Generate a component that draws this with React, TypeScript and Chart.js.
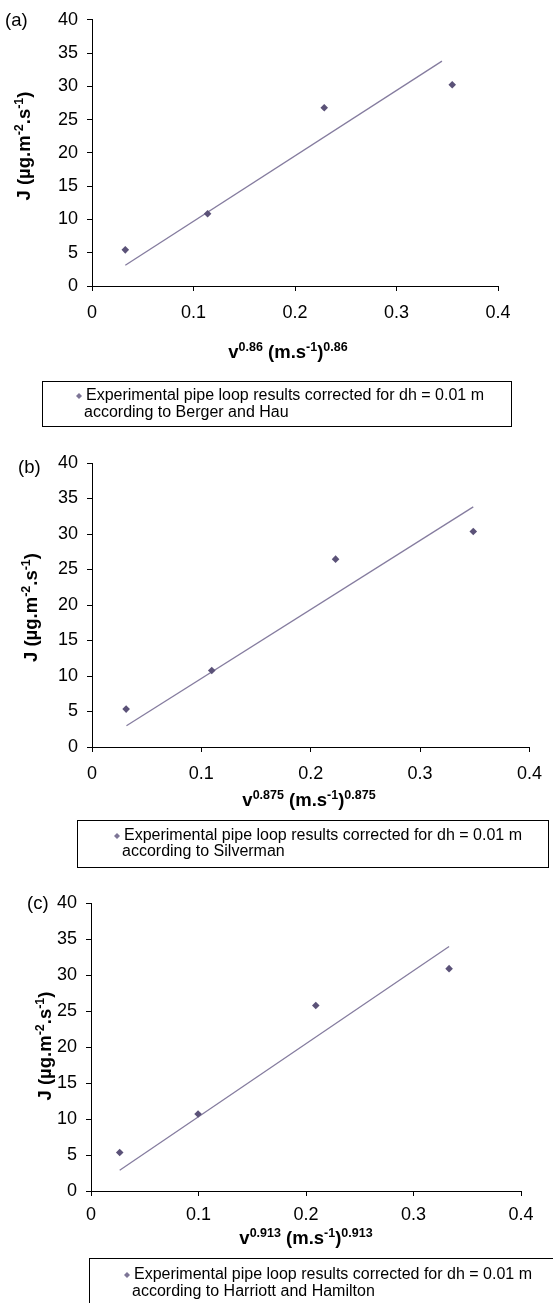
import React, { useEffect, useRef } from 'react';
import { Chart, registerables } from 'chart.js';

Chart.register(...registerables);

// ---------- data ----------
const xTickValues = [0, 0.1, 0.2, 0.3, 0.4];
const xTickLabels = ['0', '0.1', '0.2', '0.3', '0.4'];
const yTickValues = [0, 5, 10, 15, 20, 25, 30, 35, 40];
const yTickLabels = ['0', '5', '10', '15', '20', '25', '30', '35', '40'];

const panelLabels = ['(a)', '(b)', '(c)'];
const velocityExponents = ['0.86', '0.875', '0.913'];
const legendLine1 = 'Experimental pipe loop results corrected for dh = 0.01 m';
const legendLine2 = [
  'according to Berger and Hau',
  'according to Silverman',
  'according to Harriott and Hamilton',
];

// panel (a) – Berger and Hau
const bergerX = [0.0328, 0.1139, 0.2288, 0.3549];
const bergerY = [5.43, 10.85, 26.78, 30.23];
const bergerTrendX = [0.0328, 0.3448];
const bergerTrendY = [3.11, 33.79];

// panel (b) – Silverman
const silvermanX = [0.0312, 0.1095, 0.2227, 0.3486];
const silvermanY = [5.34, 10.77, 26.46, 30.35];
const silvermanTrendX = [0.0315, 0.3486];
const silvermanTrendY = [3.0, 33.82];

// panel (c) – Harriott and Hamilton
const harriottX = [0.0267, 0.0996, 0.2091, 0.3331];
const harriottY = [5.35, 10.7, 25.77, 30.88];
const harriottTrendX = [0.0267, 0.3331];
const harriottTrendY = [2.88, 33.95];

// ---------- style / layout ----------
const FONT = '"Liberation Sans", Arial, Helvetica, sans-serif';
const MARK = '#5b5278';
const LINE = '#857c9f';
const LEGEND_MARK = '#7d7596';
const W = 553;

type Layout = {
  top: number;
  height: number;
  left: number;
  right: number;
  plotTop: number;
  plotBottom: number;
  xPad: number;
  label: { x: number; y: number };
  yTitle: { x: number; cy: number };
  xTitle: { cx: number; y: number };
  legend: { x0: number; y0: number; x1: number; y1: number; textX: number; line1: number; line2: number };
};

const layouts: Layout[] = [
  {
    top: 0, height: 435, left: 92, right: 498, plotTop: 16, plotBottom: 286, xPad: 11,
    label: { x: 5, y: 26 },
    yTitle: { x: 30, cy: 146 },
    xTitle: { cx: 288, y: 358 },
    legend: { x0: 42.5, y0: 381.5, x1: 511.5, y1: 426.5, textX: 84, line1: 396, line2: 412.5 },
  },
  {
    top: 435, height: 435, left: 92, right: 540, plotTop: 28, plotBottom: 312, xPad: 11,
    label: { x: 18, y: 38 },
    yTitle: { x: 37, cy: 172.5 },
    xTitle: { cx: 309, y: 371 },
    legend: { x0: 77.5, y0: 385.5, x1: 548.5, y1: 432.5, textX: 122, line1: 401, line2: 417 },
  },
  {
    top: 870, height: 433, left: 91, right: 521, plotTop: 33, plotBottom: 321, xPad: 8,
    label: { x: 27, y: 39 },
    yTitle: { x: 51, cy: 176 },
    xTitle: { cx: 306, y: 373.5 },
    legend: { x0: 89.5, y0: 388.5, x1: 560, y1: 470, textX: 132, line1: 405, line2: 421.5 },
  },
];

type Seg = { t: string; sup?: boolean };

function drawRich(ctx: CanvasRenderingContext2D, segs: Seg[], cx: number, baseY: number) {
  const size = 18.5;
  const supSize = 12.5;
  const rise = 7;
  const widths = segs.map((s) => {
    ctx.font = `bold ${s.sup ? supSize : size}px ${FONT}`;
    return ctx.measureText(s.t).width;
  });
  const total = widths.reduce((a, b) => a + b, 0);
  let x = cx - total / 2;
  ctx.textAlign = 'left';
  ctx.textBaseline = 'alphabetic';
  ctx.fillStyle = '#000';
  segs.forEach((s, i) => {
    ctx.font = `bold ${s.sup ? supSize : size}px ${FONT}`;
    ctx.fillText(s.t, x, s.sup ? baseY - rise : baseY);
    x += widths[i];
  });
}

function makeDecor(idx: number) {
  const L = layouts[idx];
  return {
    id: 'decor' + idx,
    afterDraw(chart: any) {
      const ctx: CanvasRenderingContext2D = chart.ctx;
      ctx.save();
      // panel label
      ctx.font = `18.5px ${FONT}`;
      ctx.fillStyle = '#000';
      ctx.textAlign = 'left';
      ctx.textBaseline = 'alphabetic';
      ctx.fillText(panelLabels[idx], L.label.x, L.label.y);

      // y-axis title
      const ySegs: Seg[] = [
        { t: 'J (µg.m' },
        { t: '-2', sup: true },
        { t: '.s' },
        { t: '-1', sup: true },
        { t: ')' },
      ];
      ctx.save();
      ctx.translate(L.yTitle.x, L.yTitle.cy);
      ctx.rotate(-Math.PI / 2);
      drawRich(ctx, ySegs, 0, 0);
      ctx.restore();

      // x-axis title
      const e = velocityExponents[idx];
      const xSegs: Seg[] = [
        { t: 'v' },
        { t: e, sup: true },
        { t: ' (m.s' },
        { t: '-1', sup: true },
        { t: ')' },
        { t: e, sup: true },
      ];
      drawRich(ctx, xSegs, L.xTitle.cx, L.xTitle.y);

      // legend box
      const g = L.legend;
      ctx.strokeStyle = '#000';
      ctx.lineWidth = 1;
      ctx.strokeRect(g.x0, g.y0, g.x1 - g.x0, g.y1 - g.y0);
      // legend marker
      const mx = g.textX - 5;
      const my = g.line1;
      const r = 3;
      ctx.fillStyle = LEGEND_MARK;
      ctx.beginPath();
      ctx.moveTo(mx - r, my);
      ctx.lineTo(mx, my - r);
      ctx.lineTo(mx + r, my);
      ctx.lineTo(mx, my + r);
      ctx.closePath();
      ctx.fill();
      // legend text
      ctx.fillStyle = '#000';
      ctx.font = `16px ${FONT}`;
      ctx.textBaseline = 'middle';
      ctx.textAlign = 'left';
      ctx.fillText(legendLine1, g.textX + 2, g.line1);
      ctx.fillText(legendLine2[idx], g.textX, g.line2);
      ctx.restore();
    },
  };
}

const panelData = [
  { px: bergerX, py: bergerY, tx: bergerTrendX, ty: bergerTrendY },
  { px: silvermanX, py: silvermanY, tx: silvermanTrendX, ty: silvermanTrendY },
  { px: harriottX, py: harriottY, tx: harriottTrendX, ty: harriottTrendY },
];

function Panel({ idx }: { idx: number }) {
  const ref = useRef<HTMLCanvasElement | null>(null);
  useEffect(() => {
    const canvas = ref.current;
    if (!canvas) return;
    const L = layouts[idx];
    const d = panelData[idx];
    const axisCommon = {
      grid: { drawOnChartArea: false, drawTicks: true, tickLength: 5, color: '#000', lineWidth: 1 },
      border: { display: true, color: '#000', width: 1 },
    };
    const chart = new Chart(canvas, {
      type: 'scatter',
      data: {
        datasets: [
          {
            label: 'trend',
            data: d.tx.map((x, i) => ({ x, y: d.ty[i] })),
            showLine: true,
            borderColor: LINE,
            borderWidth: 1.3,
            pointRadius: 0,
            fill: false,
            order: 2,
          },
          {
            label: legendLine1 + ' ' + legendLine2[idx],
            data: d.px.map((x, i) => ({ x, y: d.py[i] })),
            pointStyle: 'rectRot',
            pointRadius: 3.8,
            backgroundColor: MARK,
            borderColor: MARK,
            borderWidth: 0,
            order: 1,
          },
        ],
      },
      options: {
        responsive: false,
        animation: false,
        devicePixelRatio: 1,
        layout: { padding: { left: 0, top: L.plotTop, right: W - L.right, bottom: 0 } },
        plugins: { legend: { display: false }, tooltip: { enabled: false }, title: { display: false } },
        scales: {
          x: {
            type: 'linear',
            min: 0,
            max: 0.4,
            afterBuildTicks: (s: any) => {
              s.ticks = xTickValues.map((v) => ({ value: v }));
            },
            afterFit: (s: any) => {
              s.height = L.height - L.plotBottom;
            },
            ticks: {
              callback: (_v: any, i: number) => xTickLabels[i],
              font: { family: FONT, size: 18 },
              color: '#000',
              padding: L.xPad,
              maxRotation: 0,
              autoSkip: false,
            },
            ...axisCommon,
          },
          y: {
            type: 'linear',
            min: 0,
            max: 40,
            afterBuildTicks: (s: any) => {
              s.ticks = yTickValues.map((v) => ({ value: v }));
            },
            afterFit: (s: any) => {
              s.width = L.left;
            },
            ticks: {
              callback: (_v: any, i: number) => yTickLabels[i],
              font: { family: FONT, size: 18 },
              color: '#000',
              padding: 9,
              autoSkip: false,
            },
            ...axisCommon,
          },
        },
      },
      plugins: [makeDecor(idx)],
    } as any);
    return () => chart.destroy();
  }, [idx]);
  const L = layouts[idx];
  return (
    <canvas
      ref={ref}
      width={W}
      height={L.height}
      style={{ position: 'absolute', left: 0, top: L.top, width: W, height: L.height, display: 'block' }}
    />
  );
}

export default function App() {
  useEffect(() => {
    document.documentElement.style.overflow = 'hidden';
  }, []);
  return (
    <div
      style={{
        position: 'absolute',
        left: 0,
        top: 0,
        width: W,
        height: 1303,
        overflow: 'hidden',
        background: '#fff',
      }}
    >
      <Panel idx={0} />
      <Panel idx={1} />
      <Panel idx={2} />
    </div>
  );
}
